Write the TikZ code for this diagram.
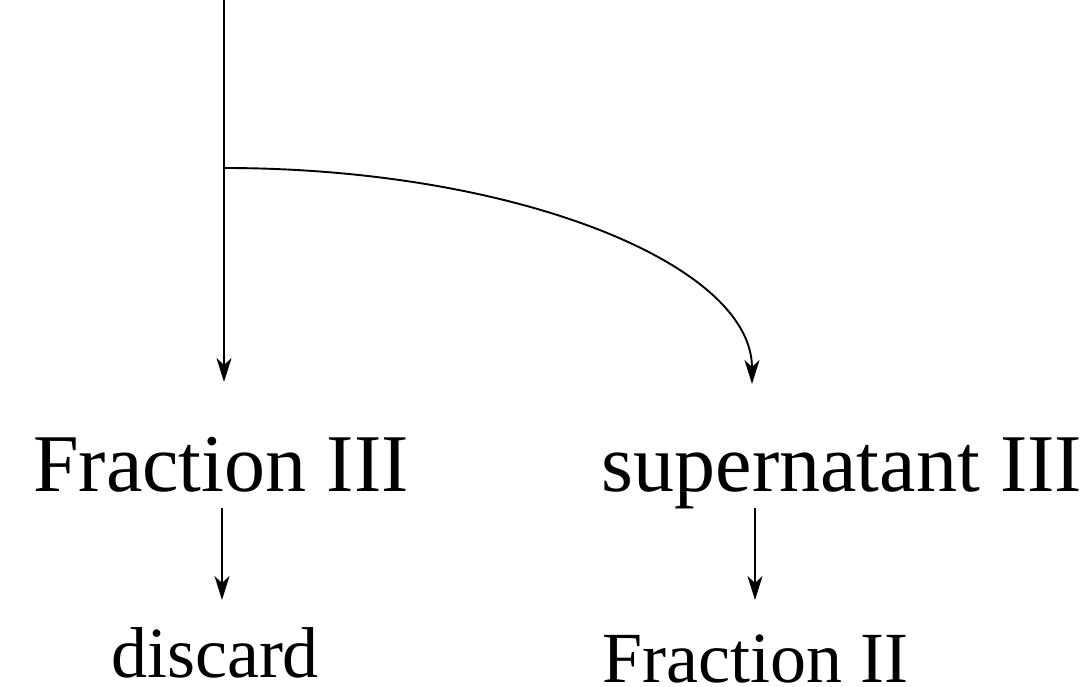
\documentclass[tikz,border=0pt]{standalone}
\usepackage{fontspec}
\setmainfont{Liberation Serif}
\usetikzlibrary{arrows.meta}
\begin{document}
\begin{tikzpicture}[x=1pt,y=-1pt,
  big/.style={anchor=base,inner sep=0pt,font=\fontsize{82}{90}\selectfont},
  small/.style={anchor=base,inner sep=0pt,font=\fontsize{72}{80}\selectfont},
  conn/.style={line width=1.9pt},
  arr/.style={conn,-{Stealth[length=24pt,width=15pt,inset=7pt]}},
  thinarr/.style={arr,line width=1.5pt}]
\useasboundingbox (0,0) rectangle (1092,687);
% nodes
\node[big] (fIII) at (221,491) {Fraction III};
\node[big] (sIII) at (842,491) {supernatant III};
\node[small] (disc) at (215,677) {discard};
\node[small] (fII) at (755,682) {Fraction II};
% connector end points
\coordinate (top) at (224,0);
\coordinate (split) at (224,168);
\coordinate (tipF) at (224,382);
\coordinate (tipS) at (752,384);
\coordinate (fIIIout) at (222,508);
\coordinate (discin) at (222,600);
\coordinate (sIIIout) at (755,508);
\coordinate (fIIin) at (755,600);
% connectors
\draw[arr] (top) -- (tipF);
\draw[arr] (split) .. controls (515.6,168) and (752,264.3) .. (tipS);
\draw[thinarr] (fIIIout) -- (discin);
\draw[thinarr] (sIIIout) -- (fIIin);
\end{tikzpicture}
\end{document}
